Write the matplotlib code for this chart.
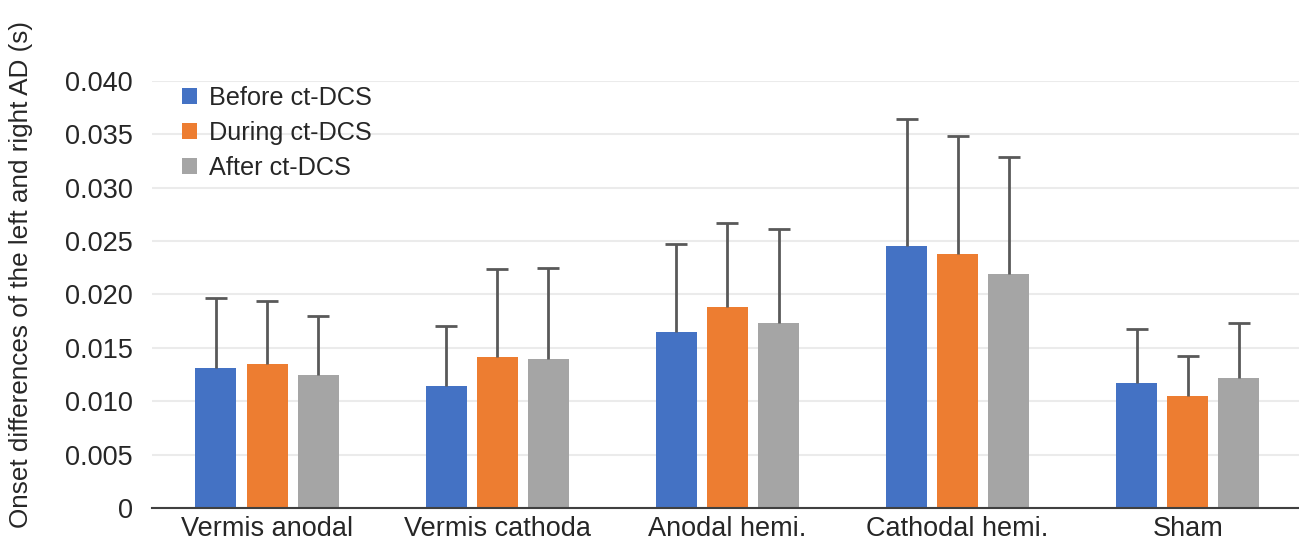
import numpy as np
import matplotlib.pyplot as plt

categories = ['Vermis anodal', 'Vermis cathoda', 'Anodal hemi.', 'Cathodal hemi.', 'Sham']
series = ['Before ct-DCS', 'During ct-DCS', 'After ct-DCS']
before = [0.0131, 0.0114, 0.0165, 0.0245, 0.0117]
during = [0.0135, 0.0141, 0.0188, 0.0238, 0.0105]
after = [0.0125, 0.0140, 0.0173, 0.0219, 0.0122]
before_top = [0.0197, 0.0170, 0.0247, 0.0364, 0.0168]
during_top = [0.0194, 0.0224, 0.0267, 0.0348, 0.0142]
after_top = [0.0180, 0.0225, 0.0261, 0.0329, 0.0173]

colors = ['#4472C4', '#ED7D31', '#A5A5A5']

plt.rcParams['font.family'] = ['Liberation Sans', 'DejaVu Sans']

fig = plt.figure(figsize=(12.99, 5.43), dpi=100)
ax = fig.add_axes([0.117, 0.0645, 0.886, 0.7865])

x = np.arange(len(categories))
width = 0.178
offset = 0.222
vals = [before, during, after]
tops = [before_top, during_top, after_top]
for i, (v, t, c, name) in enumerate(zip(vals, tops, colors, series)):
    v = np.array(v)
    err = np.array(t) - v
    cont = ax.bar(x + (i - 1) * offset, v, width, color=c, label=name, zorder=2,
                  yerr=[np.zeros_like(err), err],
                  error_kw=dict(ecolor='#595959', elinewidth=2, capsize=8, capthick=2, zorder=3))
    # hide the lower caps (only upper error shown)
    caps = cont.errorbar.lines[1]
    caps[0].set_visible(False)

ax.set_xlim(-0.5, 4.5)
ax.set_ylim(0, 0.040)
ax.set_yticks(np.arange(0, 0.0401, 0.005))
ax.set_yticklabels(['0'] + ['%.3f' % v for v in np.arange(0.005, 0.0401, 0.005)])
ax.set_xticks(x)
ax.set_xticklabels(categories)
ax.tick_params(axis='both', length=0, labelsize=19.5, labelcolor='#262626')
ax.tick_params(axis='y', pad=14)
ax.tick_params(axis='x', pad=6)
ax.grid(axis='y', color='#EBEBEB', linewidth=1.5, zorder=0)
ax.set_axisbelow(True)
for s in ['top', 'right', 'left']:
    ax.spines[s].set_visible(False)
ax.spines['bottom'].set_color('#404040')
ax.spines['bottom'].set_linewidth(1.5)

ax.set_ylabel('Onset differences of the left and right AD (s)', fontsize=18.8, color='#262626')
ax.yaxis.set_label_coords(-0.103, 0.546)

leg = ax.legend(loc='upper left', bbox_to_anchor=(0.014, 1.02), frameon=False, fontsize=18.2,
                handlelength=0.6, handleheight=0.6, handletextpad=0.45, labelspacing=0.42,
                borderaxespad=0.15)
for txt in leg.get_texts():
    txt.set_color('#262626')

fig.savefig('out.png', dpi=100)
